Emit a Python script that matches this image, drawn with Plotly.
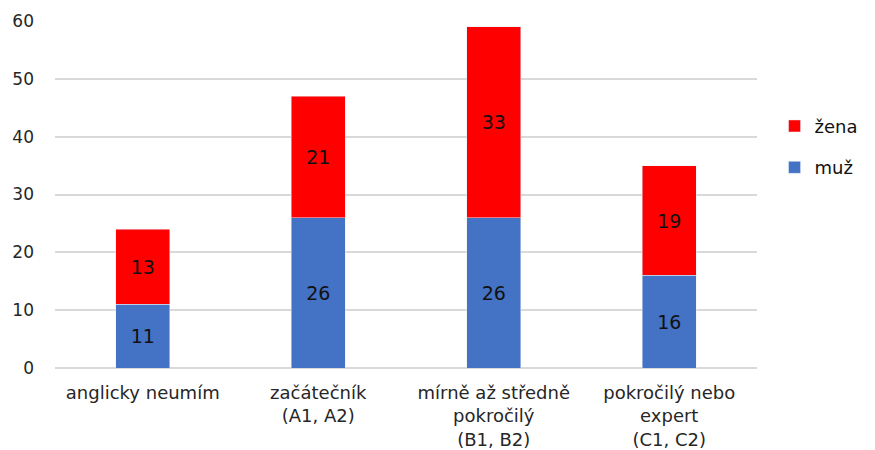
import plotly.graph_objects as go

categories = ["anglicky neumím", "začátečník<br>(A1, A2)", "mírně až středně<br>pokročilý<br>(B1, B2)", "pokročilý nebo<br>expert<br>(C1, C2)"]
muz = [11, 26, 26, 16]
zena = [13, 21, 33, 19]
y_ticks = [0, 10, 20, 30, 40, 50, 60]

font_family = "DejaVu Sans, Verdana, sans-serif"

fig = go.Figure()
fig.add_trace(go.Bar(x=categories, y=muz, name="muž", marker_color="#4472C4",
                     text=muz, textposition="inside", insidetextanchor="middle",
                     textfont=dict(size=19, color="#111111", family=font_family),
                     legendgroup="m", legendrank=2))
fig.add_trace(go.Bar(x=categories, y=zena, name="žena", marker_color="#FF0000",
                     text=zena, textposition="inside", insidetextanchor="middle",
                     textfont=dict(size=19, color="#111111", family=font_family),
                     legendgroup="z", legendrank=1))

fig.update_layout(
    width=867, height=442,
    barmode="stack", bargap=0.69,
    plot_bgcolor="white", paper_bgcolor="white",
    margin=dict(l=47, r=118, t=13, b=82, autoexpand=False),
    font=dict(family=font_family, size=18, color="#262626"),
    legend=dict(x=1.025, y=0.75, xanchor="left", yanchor="top",
                traceorder="grouped", tracegroupgap=15,
                font=dict(size=18, color="#111111"), itemwidth=30),
    uniformtext=dict(mode="show", minsize=10),
)
fig.update_yaxes(range=[0, 60], tickvals=y_ticks, showgrid=True, gridcolor="#d9d9d9",
                 gridwidth=1.5, zeroline=True, zerolinecolor="#d9d9d9", zerolinewidth=2,
                 showline=False, ticks="", ticklabelstandoff=20, automargin=False,
                 tickfont=dict(size=17, color="#262626"))
fig.update_xaxes(showline=False, ticks="", tickfont=dict(size=18, color="#262626"),
                 ticklabelstandoff=12, automargin=False)

fig.write_html("out.html")
